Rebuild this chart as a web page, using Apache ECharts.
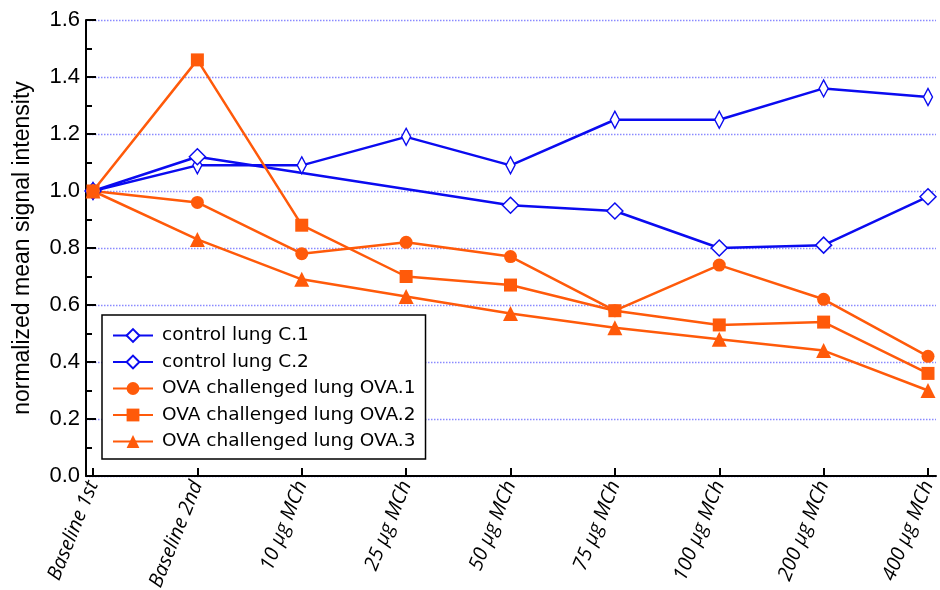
<!DOCTYPE html>
<html>
<head>
<meta charset="utf-8">
<script src="https://cdn.jsdelivr.net/npm/echarts@6/dist/echarts.min.js"></script>
<style>html,body{margin:0;padding:0;background:#fff;}#chart{width:940px;height:590px;}</style>
</head>
<body>
<div id="chart"></div>
<script>
var categories = ['Baseline 1st','Baseline 2nd','10 \u00b5g MCh','25 \u00b5g MCh','50 \u00b5g MCh','75 \u00b5g MCh','100 \u00b5g MCh','200 \u00b5g MCh','400 \u00b5g MCh'];
var seriesNames = ['control lung C.1','control lung C.2','OVA challenged lung OVA.1','OVA challenged lung OVA.2','OVA challenged lung OVA.3'];
var c1 = [1.00, 1.09, 1.09, 1.19, 1.09, 1.25, 1.25, 1.36, 1.33];
var c2 = [1.00, 1.12, null, null, 0.95, 0.93, 0.80, 0.81, 0.98];
var ova1 = [1.00, 0.96, 0.78, 0.82, 0.77, 0.58, 0.74, 0.62, 0.42];
var ova2 = [1.00, 1.46, 0.88, 0.70, 0.67, 0.58, 0.53, 0.54, 0.36];
var ova3 = [1.00, 0.83, 0.69, 0.63, 0.57, 0.52, 0.48, 0.44, 0.30];
var yTicks = [0, 0.2, 0.4, 0.6, 0.8, 1.0, 1.2, 1.4, 1.6];

var BLUE = '#0b0bf0';
var ORANGE = '#ff5a0a';

var chart = echarts.init(document.getElementById('chart'), null, {renderer: 'canvas'});

function mk(name, data, color, symbol, size, hollow) {
  return {
    name: name, type: 'line', data: data,
    xAxisIndex: 0, yAxisIndex: 0,
    connectNulls: true,
    symbol: symbol, symbolSize: size,
    showAllSymbol: true,
    lineStyle: {color: color, width: 2.5},
    itemStyle: hollow ? {color: '#ffffff', borderColor: color, borderWidth: 1.5}
                      : {color: color, borderColor: color, borderWidth: 0},
    emphasis: {disabled: true},
    animation: false
  };
}

var option = {
  animation: false,
  backgroundColor: '#ffffff',
  grid: [
    {left: 93, right: 12, top: 20, bottom: 114, containLabel: false, outerBoundsMode: 'none'},
    {left: 86, right: 4, top: 20, bottom: 114, containLabel: false, outerBoundsMode: 'none'}
  ],
  xAxis: [
    {
      type: 'category', gridIndex: 0, data: categories, boundaryGap: false,
      axisLine: {show: false},
      axisTick: {show: true, inside: true, length: 8, interval: 0, lineStyle: {color: '#000', width: 2}},
      axisLabel: {interval: 0, rotate: 68, margin: 6, color: '#000', fontSize: 20,
                  fontStyle: 'italic', fontFamily: 'Open Sans'},
      splitLine: {show: false}
    },
    {
      type: 'value', gridIndex: 1, min: 0, max: 1,
      axisLine: {show: true, onZero: false, lineStyle: {color: '#000', width: 2}},
      axisTick: {show: false}, axisLabel: {show: false}, splitLine: {show: false}
    }
  ],
  yAxis: [
    {
      type: 'value', gridIndex: 0, min: 0, max: 1.6, interval: 0.2,
      show: false, splitLine: {show: false}
    },
    {
      type: 'value', gridIndex: 1, min: 0, max: 1.6, interval: 0.2,
      name: 'normalized mean signal intensity',
      nameLocation: 'middle', nameGap: 52, nameRotate: 90,
      nameTextStyle: {fontSize: 23, color: '#000', fontFamily: 'Liberation Sans'},
      axisLine: {show: true, onZero: false, lineStyle: {color: '#000', width: 2}},
      axisTick: {show: true, inside: true, length: 10, lineStyle: {color: '#000', width: 2}},
      minorTick: {show: true, splitNumber: 2, length: 6, lineStyle: {color: '#000', width: 2}},
      axisLabel: {color: '#000', fontSize: 22, fontFamily: 'Liberation Sans', margin: 6,
                  formatter: function (v) { return v.toFixed(1); }},
      splitLine: {show: true, lineStyle: {color: '#8a8aff', width: 1.3, type: [1.5, 1.5]}}
    }
  ],
  legend: {
    show: true, orient: 'vertical', left: 102, top: 315,
    data: seriesNames,
    itemWidth: 40, itemHeight: 16, itemGap: 7.5,
    padding: [11, 10, 8, 10],
    borderColor: '#000', borderWidth: 1.5, backgroundColor: '#fff',
    textStyle: {fontSize: 18.5, color: '#000', fontFamily: 'DejaVu Sans', padding: [0, 0, 0, 4]},
    selectedMode: false
  },
  series: [
    mk(seriesNames[0], c1, BLUE, 'diamond', [9, 17], true),
    mk(seriesNames[1], c2, BLUE, 'diamond', [16, 16], true),
    mk(seriesNames[2], ova1, ORANGE, 'circle', 13, false),
    mk(seriesNames[3], ova2, ORANGE, 'rect', 13, false),
    mk(seriesNames[4], ova3, ORANGE, 'triangle', 15, false)
  ]
};
chart.setOption(option);
</script>
</body>
</html>
